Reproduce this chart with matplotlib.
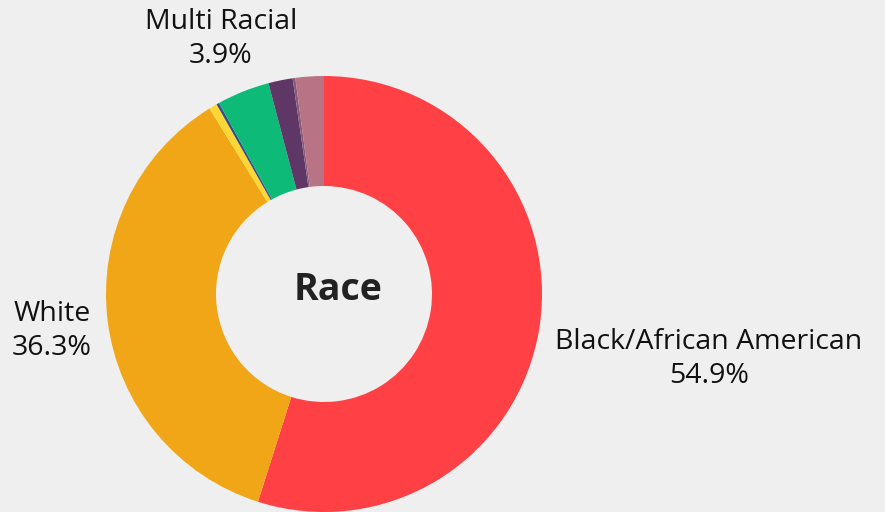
import matplotlib.pyplot as plt

# Race breakdown (clockwise from top)
labels = ['Black/African American', 'White', 'Asian', 'American Indian',
          'Multi Racial', 'Other', 'Pacific Islander', 'Unknown']
values = [54.9, 36.3, 0.6, 0.2, 3.9, 1.8, 0.2, 2.1]
colors = ['#ff4146', '#f0a616', '#fdd835', '#3a4a8a',
          '#0dba78', '#5e3766', '#8a5a7a', '#b87484']
shown = {'Black/African American': (709, 153), 'White': (52, 181), 'Multi Racial': (221, 473)}

bg = '#efefef'
plt.rcParams['font.family'] = ['Open Sans', 'DejaVu Sans']

fig = plt.figure(figsize=(8.85, 5.12), dpi=100, facecolor=bg)
ax = fig.add_axes([0, 0, 1, 1])
ax.set_facecolor(bg)

wedges, _ = ax.pie(values, colors=colors, startangle=90, counterclock=False,
                   center=(324, 218), radius=218,
                   wedgeprops=dict(width=110, linewidth=0))
ax.set_xlim(0, 885)
ax.set_ylim(0, 512)
ax.set_aspect('auto')
ax.axis('off')

for lab, v in zip(labels, values):
    if lab in shown:
        x, y = shown[lab]
        ax.text(x, y, f'{lab}\n{v}%', ha='center', va='center', fontsize=20.5,
                fontweight='medium', color='#111111', linespacing=1.3)

ax.text(338, 222, 'Race', ha='center', va='center', fontsize=27,
        fontweight='bold', color='#222222')

fig.savefig('out.png', dpi=100, facecolor=bg)
